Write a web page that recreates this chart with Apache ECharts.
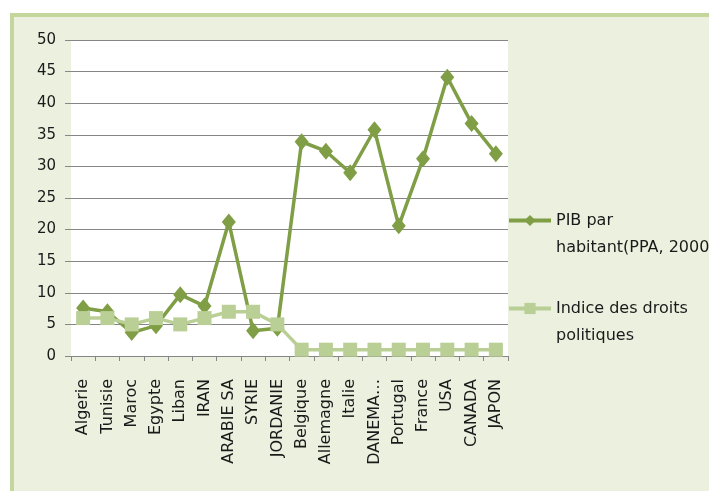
<!DOCTYPE html>
<html><head><meta charset="utf-8">
<script src="https://cdn.jsdelivr.net/npm/echarts@6/dist/echarts.min.js"></script>
<style>html,body{margin:0;padding:0;background:#fff}#c{width:709px;height:491px}</style>
</head><body><div id="c"></div>
<script>
var categories = ['Algerie','Tunisie','Maroc','Egypte','Liban','IRAN','ARABIE SA','SYRIE','JORDANIE','Belgique','Allemagne','Italie','DANEMARK','Portugal','France','USA','CANADA','JAPON'];
var pib = [7.6, 7.0, 3.7, 4.8, 9.7, 7.9, 21.2, 4.0, 4.4, 33.9, 32.4, 29.0, 35.8, 20.6, 31.2, 44.1, 36.8, 32.0];
var indice = [6, 6, 5, 6, 5, 6, 7, 7, 5, 1, 1, 1, 1, 1, 1, 1, 1, 1];
var yTicks = [0, 5, 10, 15, 20, 25, 30, 35, 40, 45, 50];
var seriesNames = ['PIB par habitant(PPA, 2000)', 'Indice des droits politiques'];
var legendLines = {
  'PIB par habitant(PPA, 2000)': ' \nPIB par\nhabitant(PPA, 2000)',
  'Indice des droits politiques': ' \nIndice des droits\npolitiques'
};

var FONT = 'DejaVu Sans';
var dark = '#7F9E45', light = '#BACF95';
var chart = echarts.init(document.getElementById('c'), null, {renderer: 'canvas'});
var legendBase = {
  orient: 'vertical', left: 507, padding: 0, itemWidth: 42, itemHeight: 14, itemGap: 0,
  lineStyle: {width: 4},
  textStyle: {fontFamily: FONT, fontSize: 16, color: '#1a1a1a', lineHeight: 27},
  formatter: function (n) { return legendLines[n]; }
};
chart.setOption({
  animation: false,
  backgroundColor: '#fff',
  graphic: [
    {type: 'rect', z: -10, silent: true, shape: {x: 10, y: 13, width: 699, height: 478}, style: {fill: '#C3D69B'}},
    {type: 'rect', z: -9, silent: true, shape: {x: 14, y: 17, width: 695, height: 474}, style: {fill: '#EBF0DF'}}
  ],
  grid: {left: 71, top: 40, width: 437, height: 316, show: true, backgroundColor: '#fff', borderWidth: 0, containLabel: false},
  legend: [
    Object.assign({}, legendBase, {top: 180, data: [seriesNames[0]]}),
    Object.assign({}, legendBase, {top: 268, data: [seriesNames[1]]})
  ],
  xAxis: {
    type: 'category', data: categories, boundaryGap: true,
    axisLine: {lineStyle: {color: '#868686', width: 1}},
    axisTick: {show: true, length: 5, alignWithLabel: false, lineStyle: {color: '#868686'}},
    axisLabel: {rotate: 90, interval: 0, margin: 23, fontFamily: FONT, fontSize: 16, color: '#1a1a1a',
      formatter: function (v) { return v === 'DANEMARK' ? 'DANEMA…' : v; }}
  },
  yAxis: {
    type: 'value', min: yTicks[0], max: yTicks[yTicks.length - 1], interval: 5,
    axisLine: {show: false},
    axisTick: {show: true, length: 6, inside: false, lineStyle: {color: '#868686'}},
    splitLine: {show: true, lineStyle: {color: '#868686', width: 1}},
    axisLabel: {margin: 15, fontFamily: FONT, fontSize: 15, color: '#1a1a1a'}
  },
  series: [
    {name: seriesNames[0], type: 'line', data: pib, symbol: 'diamond', symbolSize: [14, 17],
      lineStyle: {color: dark, width: 3.5}, itemStyle: {color: dark}, z: 2},
    {name: seriesNames[1], type: 'line', data: indice, symbol: 'rect', symbolSize: 14,
      lineStyle: {color: light, width: 3.5}, itemStyle: {color: light}, z: 3}
  ]
});
</script></body></html>
